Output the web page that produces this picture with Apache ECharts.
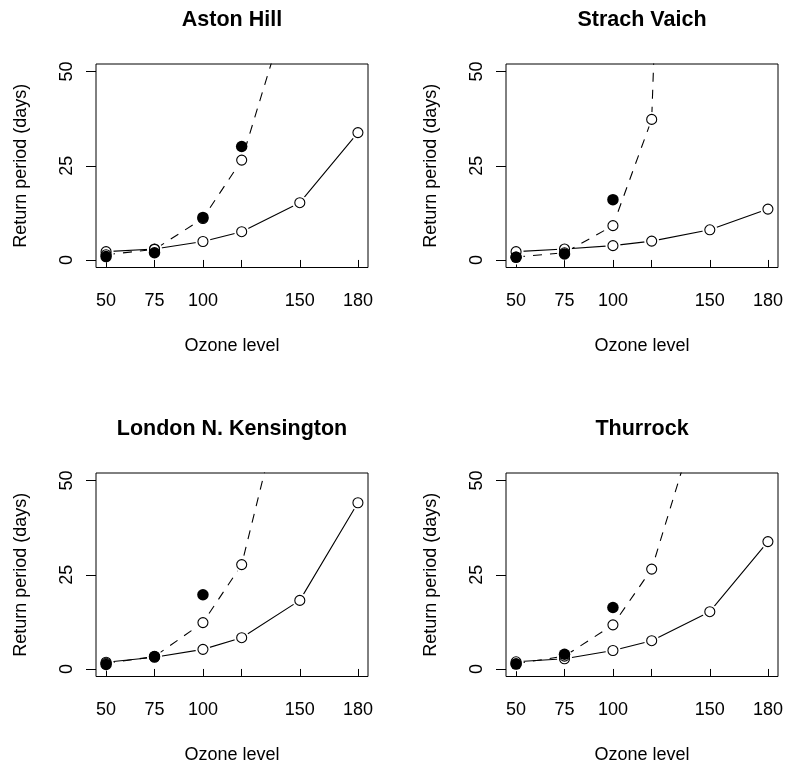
<!DOCTYPE html>
<html lang="en">
<head>
    <meta charset="UTF-8">
    <title>Return period vs ozone level</title>
    <script src="https://cdn.jsdelivr.net/npm/echarts@6/dist/echarts.min.js"></script>
    <style>
        body { margin: 0; background: #fff; }
        #main { width: 787px; height: 770px; }
    </style>
</head>
<body>
    <div id="main"></div>

    <script>
        // ozone levels (x) and tick labels
        const ozone = [50, 75, 100, 120, 150, 180]
        const xTicks = [50, 75, 100, 120, 150, 180]
        const xLabels = [50, 75, 100, 150, 180]
        const yTicks = [0, 25, 50]

        const sites = ["Aston Hill", "Strach Vaich", "London N. Kensington", "Thurrock"]

        // solid line (open circles), one value per ozone level
        const solidAston = [2.2, 2.9, 4.9, 7.5, 15.2, 33.8]
        const solidStrach = [2.2, 2.9, 3.8, 5.0, 8.0, 13.5]
        const solidLondon = [1.8, 3.1, 5.2, 8.3, 18.2, 44.1]
        const solidThurrock = [1.9, 2.7, 4.9, 7.5, 15.2, 33.8]

        // dashed line (open circles), last value runs off the top
        const dashedAston = [1.4, 2.8, 11.0, 26.5, 77]
        const dashedStrach = [0.8, 1.9, 9.1, 37.3, 480]
        const dashedLondon = [1.5, 3.3, 12.3, 27.7, 90]
        const dashedThurrock = [1.4, 3.4, 11.7, 26.5, 77]

        // observed (filled circles)
        const obsAston = [0.9, 1.9, 11.3, 30.1]
        const obsStrach = [0.7, 1.6, 16.0]
        const obsLondon = [1.2, 3.3, 19.7]
        const obsThurrock = [1.3, 3.9, 16.3]

        const solid = [solidAston, solidStrach, solidLondon, solidThurrock]
        const dashed = [dashedAston, dashedStrach, dashedLondon, dashedThurrock]
        const observed = [obsAston, obsStrach, obsLondon, obsThurrock]

        const font = "Liberation Sans, Arial, Helvetica, sans-serif"
        const pairs = (vals) => vals.map((v, i) => [ozone[i], v])

        // panel boxes: [left, top]
        const boxes = [[96, 64], [506, 64], [96, 473], [506, 473]]
        const boxW = 272, boxH = 203.5

        const grid = [], xAxis = [], yAxis = [], series = [], graphic = []

        boxes.forEach((b, k) => {
            grid.push({
                left: b[0], top: b[1], width: boxW, height: boxH,
                show: true, borderColor: "#000", borderWidth: 1, backgroundColor: "transparent"
            })
            xAxis.push({
                type: "value", gridIndex: k, min: 44.8, max: 185.2,
                name: "Ozone level", nameLocation: "middle", nameGap: 70,
                nameTextStyle: { fontFamily: font, fontSize: 18, color: "#000" },
                axisLine: { show: false },
                axisTick: { show: true, customValues: xTicks, length: 7, lineStyle: { color: "#000", width: 1 } },
                axisLabel: { customValues: xLabels, margin: 25, fontFamily: font, fontSize: 18, color: "#000" },
                splitLine: { show: false }
            })
            yAxis.push({
                type: "value", gridIndex: k, min: -2, max: 52,
                name: "Return period (days)", nameLocation: "middle", nameGap: 66,
                nameTextStyle: { fontFamily: font, fontSize: 18, color: "#000" },
                axisLine: { show: false },
                axisTick: { show: true, customValues: yTicks, length: 10, lineStyle: { color: "#000", width: 1 } },
                axisLabel: { customValues: yTicks, rotate: 90, margin: 20, fontFamily: font, fontSize: 18, color: "#000" },
                splitLine: { show: false }
            })
            graphic.push({
                type: "text", x: b[0] + boxW / 2, y: b[1] - 44,
                style: {
                    text: sites[k], font: "bold 21.5px " + font, fill: "#000",
                    align: "center", verticalAlign: "middle",
                    textAlign: "center", textVerticalAlign: "middle"
                }
            })

            const base = { xAxisIndex: k, yAxisIndex: k, silent: true, animation: false }
            // lines
            series.push(Object.assign({}, base, {
                type: "line", z: 2, data: pairs(solid[k]), showSymbol: false, symbol: "none",
                lineStyle: { color: "#000", width: 1.1, type: "solid" }
            }))
            series.push(Object.assign({}, base, {
                type: "line", z: 2, data: pairs(dashed[k]), showSymbol: false, symbol: "none",
                lineStyle: { color: "#000", width: 1.1, type: [9, 8] }
            }))
            // white gaps round the line points (type = "b" look)
            series.push(Object.assign({}, base, {
                type: "scatter", z: 3, data: pairs(solid[k]).concat(pairs(dashed[k])),
                symbol: "circle", symbolSize: 15, itemStyle: { color: "#fff", opacity: 1 }
            }))
            // open circles
            series.push(Object.assign({}, base, {
                type: "scatter", z: 4, data: pairs(solid[k]).concat(pairs(dashed[k])),
                symbol: "circle", symbolSize: 10,
                itemStyle: { color: "#fff", borderColor: "#000", borderWidth: 1.1, opacity: 1 }
            }))
            // filled circles
            series.push(Object.assign({}, base, {
                type: "scatter", z: 5, data: pairs(observed[k]),
                symbol: "circle", symbolSize: 11.5, itemStyle: { color: "#000", opacity: 1 }
            }))
        })

        const chart = echarts.init(document.getElementById("main"))
        chart.setOption({
            backgroundColor: "#fff",
            animation: false,
            grid: grid,
            xAxis: xAxis,
            yAxis: yAxis,
            series: series,
            graphic: graphic
        })
    </script>
</body>
</html>
